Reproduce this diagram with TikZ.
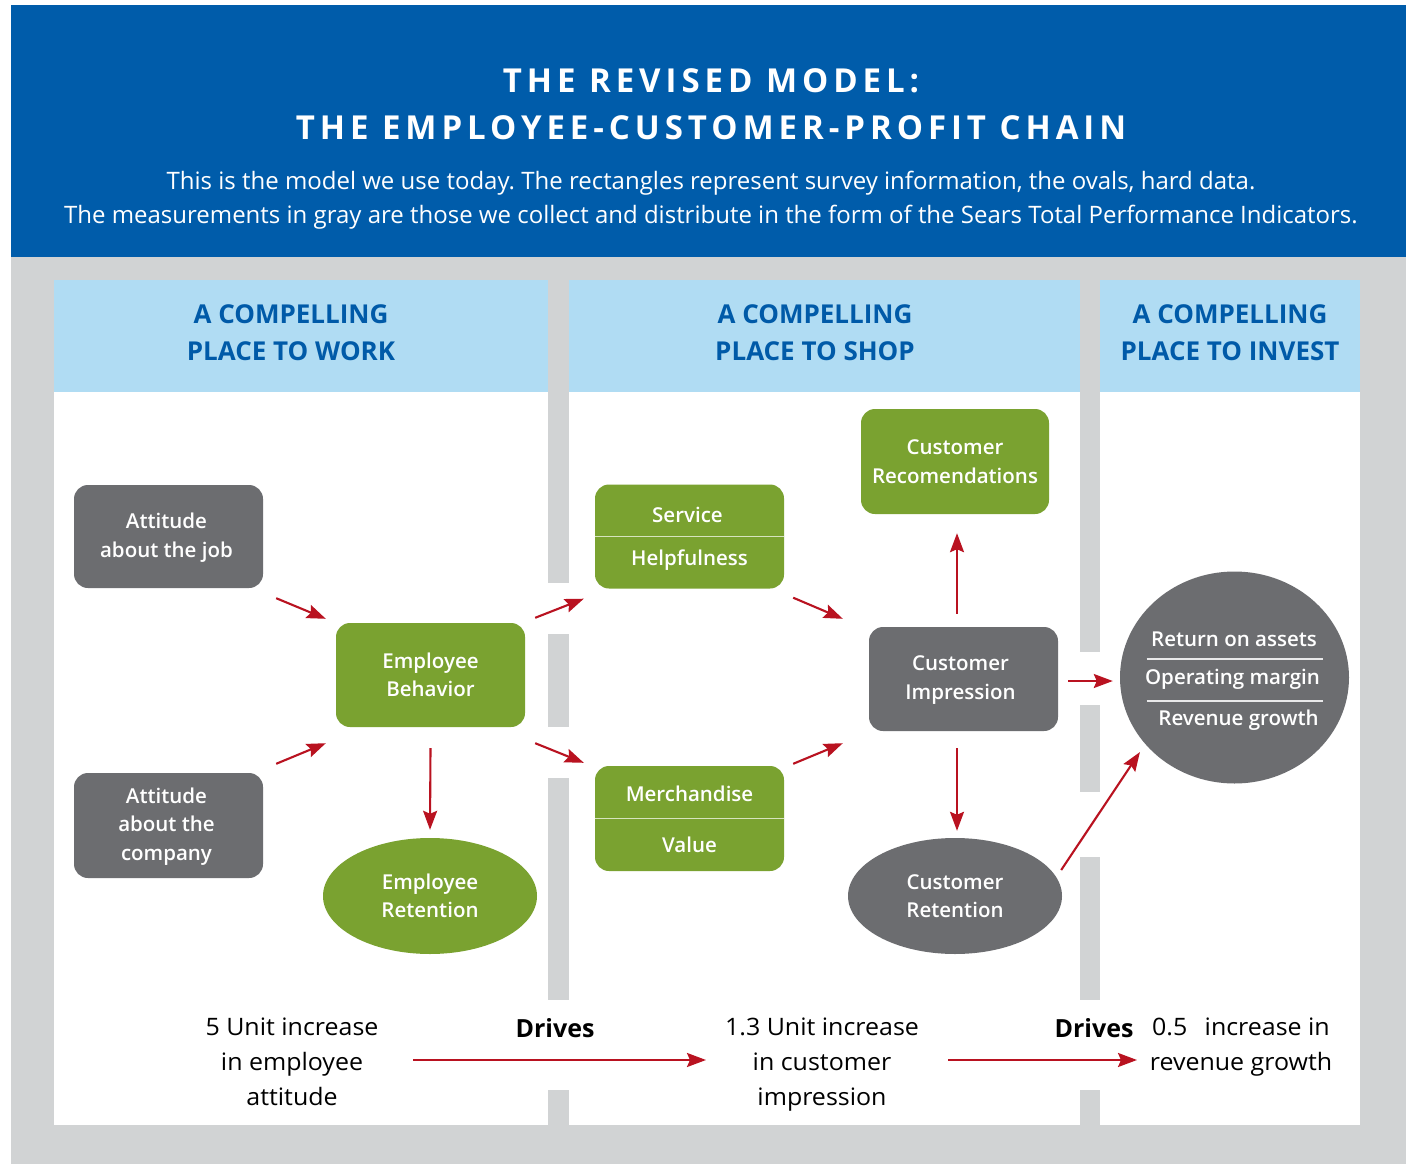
\documentclass[tikz,border=0pt]{standalone}
\usepackage{fontspec}
\setmainfont{Open Sans}
\newfontfamily\titlefont{Open Sans}[LetterSpace=15]
\newfontfamily\semibfont{Open Sans}[UprightFont={* Semibold}]
\newfontfamily\widefont{Open Sans}[FakeStretch=1.04]
\usetikzlibrary{arrows.meta,shapes.geometric,calc}
\frenchspacing

\definecolor{band}{RGB}{0,92,170}
\definecolor{panel}{RGB}{209,211,212}
\definecolor{headbg}{RGB}{176,220,243}
\definecolor{headtxt}{RGB}{0,90,168}
\definecolor{leaf}{RGB}{122,162,48}
\definecolor{slate}{RGB}{108,109,112}
\definecolor{arrowred}{RGB}{185,18,32}
\definecolor{leafline}{RGB}{214,228,190}

\tikzset{
  box/.style={rectangle, rounded corners=14pt, minimum width=189pt, inner sep=0pt},
  greenbox/.style={box, fill=leaf},
  graybox/.style={box, fill=slate},
  oval/.style={ellipse, inner sep=0pt, minimum width=214pt, minimum height=116pt},
  nodetxt/.style={text=white, align=center, font=\semibfont\fontsize{20.5}{28.5}\selectfont},
  headline/.style={text=headtxt, align=center, font=\bfseries\fontsize{26}{37}\selectfont},
  bottomtxt/.style={text=black, align=center, font=\widefont\fontsize{24}{35}\selectfont},
  drivestxt/.style={text=black, font=\bfseries\fontsize{25}{35}\selectfont},
  arr/.style={draw=arrowred, line width=2.1pt, -{Stealth[length=19pt,width=14pt,inset=3pt]}},
  divider/.style={draw=leafline, line width=1.4pt},
  roidivider/.style={draw=white!85!slate, line width=1.2pt},
}

\begin{document}
\begin{tikzpicture}[x=1pt,y=-1pt]
\useasboundingbox (0,0) rectangle (1406,1164);
\fill[white] (0,0) rectangle (1406,1164);

% banner and grey panel
\fill[band] (11,5) rectangle (1406,257);
\fill[panel] (11,257) rectangle (1406,1164);

% column headers
\fill[headbg] (54,280) rectangle (548,392);
\fill[headbg] (569,280) rectangle (1080,392);
\fill[headbg] (1100,280) rectangle (1360,392);
% column bodies
\fill[white] (54,392) rectangle (548,1125);
\fill[white] (569,392) rectangle (1080,1125);
\fill[white] (1100,392) rectangle (1360,1125);
% openings in the separators where the arrows pass
\fill[white] (547,583) rectangle (570,634);
\fill[white] (547,727) rectangle (570,778);
\fill[white] (547,1000) rectangle (570,1090);
\fill[white] (1079,652) rectangle (1101,705);
\fill[white] (1079,792) rectangle (1101,857);
\fill[white] (1079,1000) rectangle (1101,1090);

% title
\node[text=white, align=center, font=\titlefont\bfseries\fontsize{33}{47}\selectfont]
  (title) at (711,104) {THE REVISED MODEL:\\THE EMPLOYEE-CUSTOMER-PROFIT CHAIN};
\node[text=white, align=center, font=\fontsize{24}{34}\selectfont]
  (subtitle) at (711,200) {This is the model we use today. The rectangles represent survey information, the ovals, hard data.\\
  The measurements in gray are those we collect and distribute in the form of the Sears Total Performance Indicators.};

% headers
\node[headline] (h1) at (291,333) {A COMPELLING\\PLACE TO WORK};
\node[headline] (h2) at (815,333) {A COMPELLING\\PLACE TO SHOP};
\node[headline] (h3) at (1230,333) {A COMPELLING\\PLACE TO INVEST};

% place to work
\node[graybox, minimum height=103pt] (job) at (168.5,536.5) {};
\node[nodetxt] (jobt) at ($(job.center)+(-2,1)$) {Attitude\\about the job};
\node[graybox, minimum height=105pt] (comp) at (168.5,825.5) {};
\node[nodetxt] (compt) at ($(comp.center)+(-2,1)$) {Attitude\\about the\\company};
\node[greenbox, minimum height=104pt] (beh) at (430.5,675) {};
\node[nodetxt] (beht) at (beh.center) {Employee\\Behavior};
\node[oval, fill=leaf] (eret) at (430,896) {};
\node[nodetxt] (erett) at (eret.center) {Employee\\Retention};

% place to shop
\node[greenbox, minimum height=104pt] (svc) at (689.5,536.5) {};
\draw[divider] (svc.west) -- (svc.east);
\node[nodetxt] (svca) at ($(svc.center)+(-2,-22)$) {Service};
\node[nodetxt] (svcb) at ($(svc.center)+(0,24)$) {Helpfulness};
\node[greenbox, minimum height=105pt] (mer) at (689.5,818.5) {};
\draw[divider] (mer.west) -- (mer.east);
\node[nodetxt] (mera) at ($(mer.center)+(0,-25)$) {Merchandise};
\node[nodetxt] (merb) at ($(mer.center)+(0,26)$) {Value};
\node[greenbox, minimum width=188pt, minimum height=105pt] (rec) at (955,461.5) {};
\node[nodetxt] (rect) at (rec.center) {Customer\\Recomendations};
\node[graybox, minimum height=104pt] (imp) at (963.5,679) {};
\node[nodetxt] (impt) at ($(imp.center)+(-3,1)$) {Customer\\Impression};
\node[oval, fill=slate] (cret) at (955,896) {};
\node[nodetxt] (crett) at (cret.center) {Customer\\Retention};

% place to invest
\node[ellipse, fill=slate, inner sep=0pt, minimum width=229pt, minimum height=212pt] (roi) at (1234.5,677.5) {};
\draw[roidivider] ($(roi.center)+(-88,-18.5)$) -- ($(roi.center)+(88,-18.5)$);
\draw[roidivider] ($(roi.center)+(-88,23.5)$) -- ($(roi.center)+(88,23.5)$);
\node[nodetxt] (roia) at ($(roi.center)+(-0.5,-38)$) {Return on assets};
\node[nodetxt] (roib) at ($(roi.center)+(-2,2)$) {Operating margin};
\node[nodetxt] (roic) at ($(roi.center)+(4,43)$) {Revenue growth};

% links
\draw[arr] ([shift={(13,10)}]job.south east) -- ([shift={(-10,-4)}]beh.north west);
\draw[arr] ([shift={(13,-9)}]comp.north east) -- ([shift={(-10,16)}]beh.south west);
\draw[arr] ([shift={(0,21)}]beh.south) -- ([shift={(0,-8)}]eret.north);
\draw[arr] ([shift={(10,-5)}]beh.north east) -- ([shift={(-11,10)}]svc.south west);
\draw[arr] ([shift={(10,16)}]beh.south east) -- ([shift={(-11,-3)}]mer.north west);
\draw[arr] ([shift={(9,9)}]svc.south east) -- ([shift={(-26,-8)}]imp.north west);
\draw[arr] ([shift={(9,-2)}]mer.north east) -- ([shift={(-26,12)}]imp.south west);
\draw[arr] ([shift={(-6.5,-13)}]imp.north) -- ([shift={(2,19)}]rec.south);
\draw[arr] ([shift={(-6.5,17)}]imp.south) -- ([shift={(2,-7)}]cret.north);
\draw[arr] ([shift={(10,2)}]imp.east) -- ([shift={(-7,3.5)}]roi.west);
\draw[arr] ([shift={(-1,-26)}]cret.east) -- ([shift={(-13.5,-0.5)}]roi.south west);

% summary row
\node[bottomtxt] (s1) at (292,1062) {5 Unit increase\\in employee\\attitude};
\node[bottomtxt] (s2) at (822,1065) {1.3 Unit increase\\in customer\\impression};
\node[bottomtxt] (s3) at (1241,1047.5) {0.5\hspace{0.45em} increase in\\revenue growth};
\node[drivestxt] (d1) at (555,1028) {Drives};
\node[drivestxt] (d2) at (1094,1028) {Drives};
\coordinate (b1s) at (413,1060);
\coordinate (b1e) at (706,1060);
\coordinate (b2s) at (948,1060);
\coordinate (b2e) at (1137,1060);
\draw[arr] (b1s) -- (b1e);
\draw[arr] (b2s) -- (b2e);
\end{tikzpicture}
\end{document}
